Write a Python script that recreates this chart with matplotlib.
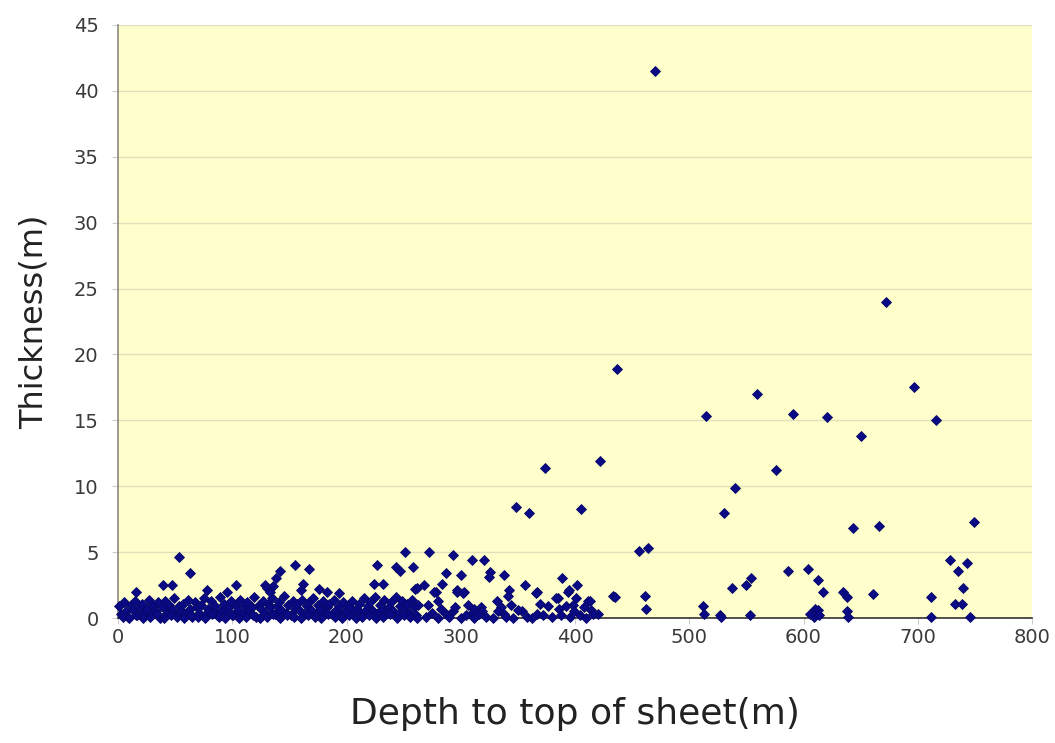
import matplotlib
matplotlib.use("Agg")
import matplotlib.pyplot as plt

# ---------------- data ----------------
# dense band of thin sheets near the surface (depth 0-265 m)
band_x = [1, 3, 5, 7, 9, 11, 13, 15, 17, 19, 21, 23, 25, 27, 29, 31, 33, 35, 37, 39,
          41, 43, 45, 47, 49, 51, 53, 55, 57, 59, 61, 63, 65, 67, 69, 71, 73, 75, 77, 79,
          81, 83, 85, 87, 89, 91, 93, 95, 97, 99, 101, 103, 105, 107, 109, 111, 113, 115, 117, 119,
          121, 123, 125, 127, 129, 131, 133, 135, 137, 139, 141, 143, 145, 147, 149, 151, 153, 155, 157, 159,
          161, 163, 165, 167, 169, 171, 173, 175, 177, 179, 181, 183, 185, 187, 189, 191, 193, 195, 197, 199,
          201, 203, 205, 207, 209, 211, 213, 215, 217, 219, 221, 223, 225, 227, 229, 231, 233, 235, 237, 239,
          241, 243, 245, 247, 249, 251, 253, 255, 257, 259, 261, 263]
band_y = [0.9, 0.3, 1.2, 0.5, 0.1, 1.0, 0.6, 1.3, 0.2, 0.8,
          1.1, 0.4, 0.7, 1.4, 0.2, 0.9, 0.5, 1.2, 0.0, 0.8,
          1.3, 0.4, 1.0, 0.6, 1.5, 0.2, 0.9, 0.5, 1.1, 0.3,
          1.4, 0.7, 0.1, 1.2, 0.8, 0.4, 1.0, 1.5, 0.3, 0.7,
          1.3, 0.5, 0.9, 0.2, 1.6, 0.6, 1.1, 0.4, 0.8, 1.3,
          0.2, 1.0, 0.6, 1.4, 0.3, 0.9, 1.2, 0.5, 0.8, 1.6,
          0.1, 1.0, 0.7, 1.3, 0.4, 1.1, 0.8, 1.5, 0.3, 0.9,
          1.2, 0.6, 1.7, 0.4, 1.0, 0.2, 1.3, 0.7, 1.1, 0.5,
          1.4, 0.3, 0.9, 1.2, 0.6, 1.5, 0.2, 1.0, 0.7, 1.3,
          0.4, 0.8, 1.1, 0.3, 1.4, 0.6, 0.9, 0.2, 1.2, 0.5,
          1.0, 0.8, 1.3, 0.4, 0.7, 1.1, 0.3, 1.5, 0.6, 0.9,
          1.2, 0.5, 1.6, 0.3, 1.0, 0.7, 1.4, 0.4, 0.8, 1.2,
          0.5, 1.6, 0.3, 0.9, 1.3, 0.6, 1.1, 0.4, 1.4, 0.8,
          0.2, 1.0]

base_x = [4, 10, 16, 22, 28, 34, 40, 46, 52, 58, 64, 70, 76, 82, 88, 94, 100, 106, 112, 118,
          124, 130, 136, 142, 148, 154, 160, 166, 172, 178, 184, 190, 196, 202, 208, 214, 220, 226, 232, 238,
          244, 250, 256, 262]
base_y = [0.1, 0.0, 0.2, 0.0, 0.1, 0.3, 0.0, 0.2, 0.1, 0.0,
          0.2, 0.1, 0.0, 0.3, 0.1, 0.0, 0.2, 0.0, 0.1, 0.2,
          0.0, 0.1, 0.3, 0.0, 0.2, 0.1, 0.0, 0.2, 0.1, 0.0,
          0.3, 0.1, 0.0, 0.2, 0.0, 0.1, 0.2, 0.0, 0.1, 0.3,
          0.0, 0.2, 0.1, 0.0]

# scattered sheets, shallow part (above the band)
shallow_x = [16, 39, 47, 53, 63, 78, 95, 103, 129, 136,
             142, 138, 155, 167, 130, 133, 162, 160, 176, 183, 193,
             251, 227, 243, 247, 258, 224, 232, 260]
shallow_y = [2.0, 2.5, 2.5, 4.6, 3.4, 2.1, 2.0, 2.5, 2.5, 2.4,
             3.6, 3.0, 4.0, 3.7, 2.3, 2.0, 2.6, 2.1, 2.2, 2.0, 1.9,
             5.0, 4.0, 3.9, 3.6, 3.9, 2.6, 2.6, 2.2]

# intermediate depths (265-470 m)
mid_x = [272, 293, 310, 320, 287, 300, 326, 325, 338, 262, 268, 278, 284, 297, 303,
         342, 356, 367, 389, 385, 394,
         277, 297, 302, 280, 271, 283, 287, 293, 306, 312, 309, 318, 319, 332,
         335, 341, 344, 338, 354, 366, 369, 367, 383, 386, 398, 411, 414, 420, 433,
         270, 275, 280, 290, 295, 300, 305, 312, 316, 322, 328, 333, 340, 346, 350,
         358, 362, 372, 376, 380,
         388, 392, 396, 399, 404, 408, 410, 416,
         395, 402, 401, 413, 435, 461, 462, 456, 464]
mid_y = [5.0, 4.8, 4.4, 4.4, 3.4, 3.3, 3.5, 3.1, 3.3, 2.3, 2.5, 2.0, 2.6, 2.1, 2.0,
         2.1, 2.5, 2.0, 3.0, 1.5, 2.0,
         2.0, 2.0, 1.9, 1.3, 1.0, 0.7, 0.3, 0.5, 1.0, 0.7, 0.3, 0.8, 0.5, 1.3,
         0.8, 1.7, 1.0, 0.3, 0.5, 1.9, 1.1, 0.3, 1.5, 0.7, 1.0, 1.3, 0.6, 0.3, 1.7,
         0.1, 0.4, 0.0, 0.1, 0.8, 0.0, 0.2, 0.0, 0.3, 0.1, 0.0, 0.5, 0.1, 0.0, 0.6,
         0.1, 0.0, 0.2, 0.9, 0.1,
         0.2, 0.9, 0.1, 0.5, 0.2, 0.8, 0.0, 0.3,
         2.1, 2.5, 1.5, 1.3, 1.6, 1.7, 0.7, 5.1, 5.3]

# deep part (> 500 m)
deep_x = [512, 513, 527, 528, 553, 537, 550, 554, 586, 604, 613, 617, 635, 638,
          610, 613, 609, 606, 614, 638, 639,
          728, 743, 735, 740, 733, 739, 712, 661, 712, 746]
deep_y = [0.9, 0.3, 0.2, 0.1, 0.2, 2.3, 2.5, 3.0, 3.6, 3.7, 2.9, 2.0, 2.0, 1.6,
          0.7, 0.6, 0.1, 0.3, 0.2, 0.5, 0.1,
          4.4, 4.2, 3.6, 2.3, 1.1, 1.1, 1.6, 1.8, 0.1, 0.1]

# thick outliers
thick_x = [470, 672, 437, 697, 559, 591, 515, 621, 716, 650, 422, 374, 576, 540,
           348, 360, 405, 530, 749, 643, 666]
thick_y = [41.5, 24.0, 18.9, 17.5, 17.0, 15.5, 15.3, 15.25, 15.05, 13.8, 11.95, 11.4, 11.25, 9.85,
           8.4, 8.0, 8.25, 8.0, 7.3, 6.8, 7.0]

x_ticks = [0, 100, 200, 300, 400, 500, 600, 700, 800]
y_ticks = [0, 5, 10, 15, 20, 25, 30, 35, 40, 45]
x_label = "Depth to top of sheet(m)"
y_label = "Thickness(m)"

# ---------------- figure ----------------
fig = plt.figure(figsize=(10.55, 7.43), dpi=100)
ax = fig.add_axes([118 / 1055, 125 / 743, (1032 - 118) / 1055, (618 - 25) / 743])
ax.set_facecolor("#FFFFCC")

marker_kw = dict(linestyle="none", marker="D", markersize=4.8,
                 color="#0a0a84", markeredgewidth=0.6, markeredgecolor="#08086a")
for xs, ys in [(band_x, band_y), (base_x, base_y), (shallow_x, shallow_y),
               (mid_x, mid_y), (deep_x, deep_y), (thick_x, thick_y)]:
    ax.plot(xs, ys, **marker_kw, zorder=3, clip_on=False)

ax.set_xlim(0, 800)
ax.set_ylim(0, 45)
ax.set_xticks(x_ticks)
ax.set_yticks(y_ticks)
ax.yaxis.grid(True, color="#E2E0B8", linewidth=1.0)
ax.set_axisbelow(True)

for side in ["top", "right"]:
    ax.spines[side].set_visible(False)
ax.spines["left"].set_color("#8a8a80")
ax.spines["left"].set_linewidth(1.2)
ax.spines["bottom"].set_color("#333333")
ax.spines["bottom"].set_linewidth(1.2)

ax.tick_params(axis="both", labelsize=14, labelcolor="#3a3a3a", color="#cccccc",
               length=4, width=0.8, direction="out")
ax.tick_params(axis="x", pad=3)
ax.tick_params(axis="y", pad=10)

ax.set_xlabel(x_label, fontsize=26, color="#222222", labelpad=36)
ax.set_ylabel(y_label, fontsize=23, color="#222222", labelpad=17)

fig.savefig("out.png", dpi=100)
